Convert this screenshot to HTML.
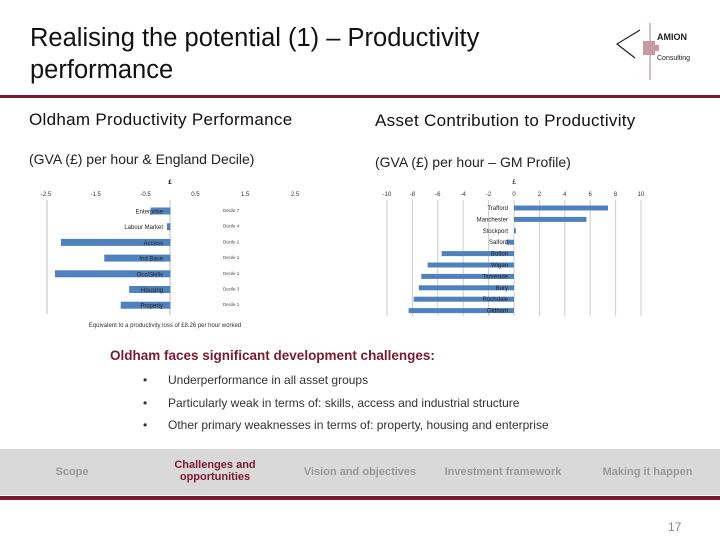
<!DOCTYPE html>
<html><head><meta charset="utf-8">
<style>
body{margin:0;width:720px;height:540px;position:relative;background:#fff;font-family:"Liberation Sans",sans-serif;overflow:hidden}
.abs{position:absolute}
.title{left:30px;top:22px;font-size:25.5px;line-height:32px;color:#111}
.h{font-size:17px;letter-spacing:0.3px;color:#111;white-space:nowrap}
.sub{font-size:14px;color:#222;white-space:nowrap}
.nav{left:0;top:449px;width:720px;height:46px;background:#d9d9d9}
.navi{position:absolute;font-size:11px;color:#999;font-weight:bold;text-align:center}
.bul{font-size:12px;color:#333}
</style></head><body>
<div class="abs title">Realising the potential (1) – Productivity<br>performance</div>
<svg class="abs" style="left:605px;top:18px" width="90" height="65">
<line x1="45" y1="5" x2="45" y2="62" stroke="#b08090" stroke-width="1"/>
<path d="M35 12 L12 26 L30 40" fill="none" stroke="#222" stroke-width="1.2"/>
<rect x="38" y="23" width="12" height="14" fill="#c89aa5"/><rect x="48" y="27" width="6" height="6" fill="#c89aa5"/>
<text x="52" y="22" font-size="9" font-family="Liberation Sans" font-weight="bold" fill="#222">AMION</text>
<text x="52" y="42" font-size="7" font-family="Liberation Sans" fill="#222">Consulting</text>
</svg>
<div class="abs" style="left:0;top:95px;width:720px;height:3px;background:#7a1a33"></div>
<div class="abs h" style="left:29px;top:110px">Oldham Productivity Performance</div>
<div class="abs h" style="left:375px;top:111px">Asset Contribution to Productivity</div>
<div class="abs sub" style="left:29px;top:151px">(GVA (£) per hour &amp; England Decile)</div>
<div class="abs sub" style="left:375px;top:154px">(GVA (£) per hour – GM Profile)</div>
<svg class="abs" style="left:0;top:0" width="720" height="340" id="charts"></svg>
<div class="abs" style="left:110px;top:348px;font-size:13.5px;font-weight:bold;color:#7a1a33;white-space:nowrap">Oldham faces significant development challenges:</div>
<div class="abs bul" style="left:143px;top:373px">•<span style="position:absolute;left:25px;white-space:nowrap">Underperformance in all asset groups</span></div>
<div class="abs bul" style="left:143px;top:396px">•<span style="position:absolute;left:25px;white-space:nowrap">Particularly weak in terms of: skills, access and industrial structure</span></div>
<div class="abs bul" style="left:143px;top:418px">•<span style="position:absolute;left:25px;white-space:nowrap">Other primary weaknesses in terms of: property, housing and enterprise</span></div>
<div class="abs nav">
<div class="navi" style="left:40px;top:17px;width:64px">Scope</div>
<div class="navi" style="left:160px;top:10px;width:110px;color:#7a1a33">Challenges and<br>opportunities</div>
<div class="navi" style="left:290px;top:17px;width:140px">Vision and objectives</div>
<div class="navi" style="left:433px;top:17px;width:140px">Investment framework</div>
<div class="navi" style="left:590px;top:17px;width:115px">Making it happen</div>
</div>
<div class="abs" style="left:0;top:496px;width:720px;height:4px;background:#7a1a33"></div>
<div class="abs" style="left:668px;top:520px;font-size:12px;color:#888">17</div>
<script>
const leftCats=["Enterprise","Labour Market","Access","Ind Base","Occ/Skills","Housing","Property"];
const leftVals=[-0.4,-0.07,-2.2,-1.33,-2.32,-0.83,-1.0];
const leftDeciles=["Decile 7","Decile 4","Decile 2","Decile 1","Decile 1","Decile 3","Decile 1"];
const leftTicks=[-2.5,-1.5,-0.5,0.5,1.5,2.5];
const rightCats=["Trafford","Manchester","Stockport","Salford","Bolton","Wigan","Tameside","Bury","Rochdale","Oldham"];
const rightVals=[7.4,5.7,0.15,-0.6,-5.7,-6.8,-7.3,-7.5,-7.9,-8.3];
const rightTicks=[-10,-8,-6,-4,-2,0,2,4,6,8,10];
const svg=document.getElementById('charts');const NS='http://www.w3.org/2000/svg';
function mk(t,a,p){const e=document.createElementNS(NS,t);for(const k in a)e.setAttribute(k,a[k]);(p||svg).appendChild(e);return e;}
function txt(x,y,s,size,anchor,fill){const e=mk('text',{x:x,y:y,'font-size':size,'text-anchor':anchor||'middle',fill:fill||'#333','font-family':'Liberation Sans'});e.textContent=s;return e;}
const lx=v=>170.5+v*49.8; const ly=i=>211+i*15.7;
txt(170,184,'£',6,'middle','#000').setAttribute('font-weight','bold');
leftTicks.forEach(t=>{const e=txt(lx(t),196,t.toFixed(1),6);});
mk('line',{x1:47,y1:200,x2:47,y2:314,stroke:'#bbb'});
mk('line',{x1:170,y1:200,x2:170,y2:315,stroke:'#bbb'});
leftCats.forEach((c,i)=>{
 const v=leftVals[i];const b=mk('rect',{x:Math.min(lx(v),lx(0)),y:ly(i)-3.5,width:Math.abs(lx(v)-lx(0)),height:7,fill:'#4f81bd'});
 
 const t=txt(163,ly(i)+2.5,c,6,'end','#222');
 const d=txt(223,ly(i)+1,leftDeciles[i],4.5,'start','#444');
});
const note=txt(165,327,'Equivalent to a productivity loss of £8.26 per hour worked',6);


const rx=v=>514+v*12.7; const ry=i=>208+i*11.4;
txt(514,184,'£',6,'middle','#000');
rightTicks.forEach(t=>{mk('line',{x1:rx(t),y1:200,x2:rx(t),y2:316,stroke:'#ccc'});const e=txt(rx(t),196,String(t),6);});
rightCats.forEach((c,i)=>{
 const v=rightVals[i];const b=mk('rect',{x:Math.min(rx(v),rx(0)),y:ry(i)-2.5,width:Math.abs(rx(v)-rx(0)),height:5,fill:'#4f81bd'});
 
 const t=txt(508,ry(i)+2,c,6,'end','#222');
});
</script>
</body></html>
